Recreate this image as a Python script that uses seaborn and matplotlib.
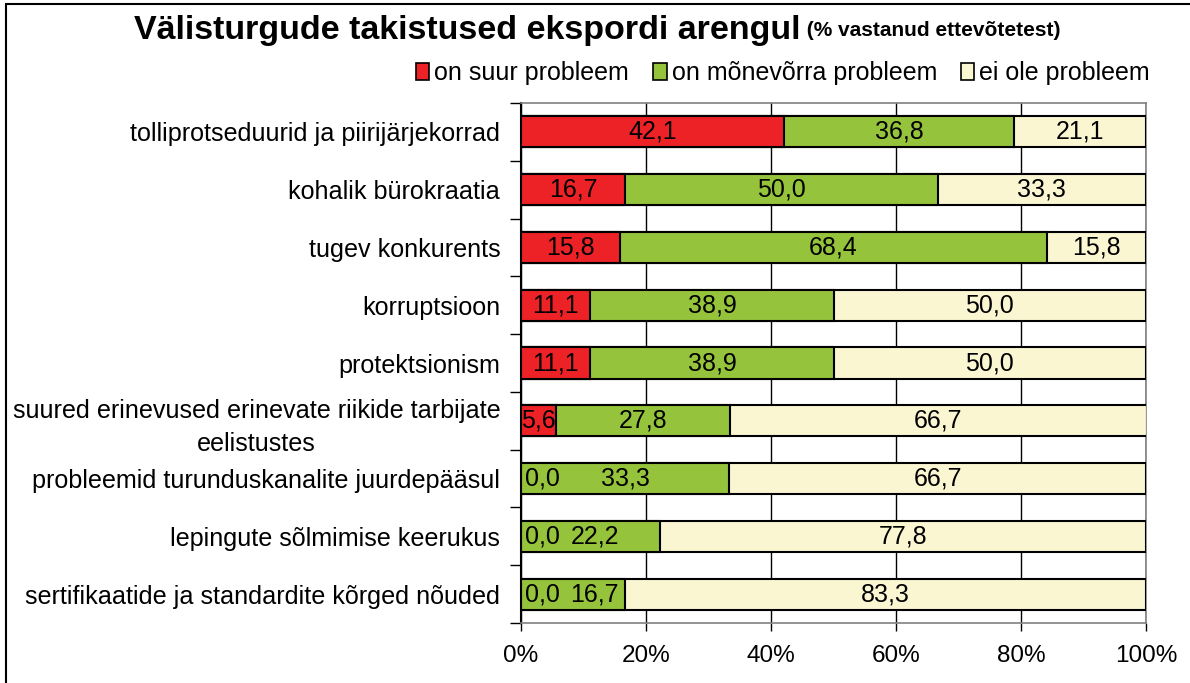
import matplotlib
matplotlib.use("Agg")
import matplotlib.pyplot as plt
import seaborn as sns
import pandas as pd
import numpy as np
from matplotlib.patches import Patch, Rectangle

categories = [
    "tolliprotseduurid ja piirijärjekorrad",
    "kohalik bürokraatia",
    "tugev konkurents",
    "korruptsioon",
    "protektsionism",
    "suured erinevused erinevate riikide tarbijate\neelistustes",
    "probleemid turunduskanalite juurdepääsul",
    "lepingute sõlmimise keerukus",
    "sertifikaatide ja standardite kõrged nõuded",
]
suur = [42.1, 16.7, 15.8, 11.1, 11.1, 5.6, 0.0, 0.0, 0.0]
monevorra = [36.8, 50.0, 68.4, 38.9, 38.9, 27.8, 33.3, 22.2, 16.7]
ei_ole = [21.1, 33.3, 15.8, 50.0, 50.0, 66.7, 66.7, 77.8, 83.3]
series_names = ["on suur probleem", "on mõnevõrra probleem", "ei ole probleem"]
colors = ["#ED2226", "#96C33C", "#FAF6D2"]
xticks = [0, 20, 40, 60, 80, 100]

sns.set_theme(style="white")
plt.rcParams['font.family'] = ['Liberation Sans', 'DejaVu Sans']
plt.rcParams['text.color'] = 'black'
plt.rcParams['xtick.color'] = 'black'
plt.rcParams['ytick.color'] = 'black'
plt.rcParams['xtick.labelcolor'] = 'black'
plt.rcParams['ytick.labelcolor'] = 'black'

FS = 18
FSY = 18.05

df = pd.DataFrame({"cat": categories, "a": suur, "b": monevorra, "c": ei_ole})
df["cum_a"] = df["a"]
df["cum_b"] = df["a"] + df["b"]
df["cum_c"] = df["a"] + df["b"] + df["c"]

fig = plt.figure(figsize=(11.9, 6.83), dpi=100)
ax = fig.add_axes([521/1190, 1-623/683, (1146-521)/1190, (623-103)/683])

bw = 0.54
for col, c in [("cum_c", colors[2]), ("cum_b", colors[1]), ("cum_a", colors[0])]:
    sns.barplot(data=df, x=col, y="cat", orient="h", color=c, width=bw,
                edgecolor="black", linewidth=1.5, ax=ax, saturation=1, zorder=3)

ax.set_xlim(0, 100)
ax.set_ylim(len(categories) - 0.5, -0.5)
ax.set_xlabel("")
ax.set_ylabel("")

# gridlines
ax.set_xticks(xticks)
ax.set_xticklabels([f"{t}%" for t in xticks], fontsize=17.5, color="black")
ax.xaxis.grid(True, color="black", linewidth=1.0, zorder=0)
ax.set_axisbelow(True)
ax.tick_params(axis="x", direction="out", length=6, width=1, color="black",
               pad=10, bottom=True)

# y labels
ax.set_yticks(range(len(categories)))
ax.set_yticklabels(categories, fontsize=FSY, color="black")
ax.tick_params(axis="y", length=0, pad=15)
for lbl in ax.get_yticklabels():
    lbl.set_multialignment("center")
    lbl.set_linespacing(1.45)
ax.set_yticks(np.arange(-0.5, len(categories) + 0.5, 1), minor=True)
ax.tick_params(axis="y", which="minor", length=8, width=1, color="black", left=True)

for side in ["top", "right", "bottom"]:
    ax.spines[side].set_color("#808080")
    ax.spines[side].set_linewidth(1.2)
ax.spines["left"].set_color("black")
ax.spines["left"].set_linewidth(1.5)

# data labels
def fmt(v):
    return f"{v:.1f}".replace(".", ",")

for i in range(len(categories)):
    a, b, c = suur[i], monevorra[i], ei_ole[i]
    if a == 0:
        ax.text(0.6, i, fmt(a), ha="left", va="center", fontsize=FS, zorder=5, color="black")
        xb = max(b / 2, 11.8)
    else:
        ax.text(a / 2, i, fmt(a), ha="center", va="center", fontsize=FS, zorder=5, color="black")
        xb = a + b / 2
    ax.text(xb, i, fmt(b), ha="center", va="center", fontsize=FS, zorder=5, color="black")
    ax.text(a + b + c / 2, i, fmt(c), ha="center", va="center", fontsize=FS, zorder=5, color="black")

# legend
handles = [Patch(facecolor=colors[k], edgecolor="black", linewidth=1.2, label=series_names[k])
           for k in range(3)]
leg = fig.legend(handles=handles, ncol=3, loc="center right", bbox_to_anchor=(1150/1190, 1-73/683),
                 frameon=False, fontsize=18, handlelength=0.55, handleheight=0.65,
                 handletextpad=0.2, columnspacing=0.95, borderaxespad=0, borderpad=0)
for t in leg.get_texts():
    t.set_color("black")

# title
t1 = fig.text(0.5, 1-31/683, "Välisturgude takistused ekspordi arengul", fontsize=24.5,
              fontweight="bold", ha="left", va="center", color="black")
t2 = fig.text(0.5, 1-31/683, " (% vastanud ettevõtetest)", fontsize=15,
              fontweight="bold", ha="left", va="center", color="black")
fig.canvas.draw()
r = fig.canvas.get_renderer()
w1 = t1.get_window_extent(r).width / fig.bbox.width
w2 = t2.get_window_extent(r).width / fig.bbox.width
x0 = 597/1190 - (w1 + w2) / 2
t1.set_x(x0)
t2.set_x(x0 + w1)

# outer border
fig.patches.append(Rectangle((6/1190, -0.05), 1.2, 1 - 4/683 + 0.05, transform=fig.transFigure,
                             fill=False, edgecolor="black", linewidth=1.5))

fig.savefig("out.png", dpi=100, facecolor="white")
